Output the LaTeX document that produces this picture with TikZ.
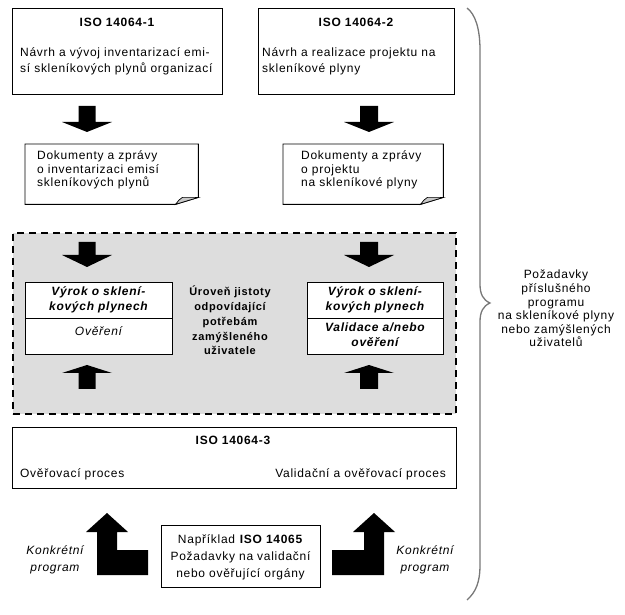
\documentclass[tikz,border=0pt]{standalone}
\usepackage{fontspec}
\setmainfont{Liberation Sans}[LetterSpace=6]
\definecolor{panelgray}{RGB}{221,221,221}
\definecolor{bracegray}{RGB}{120,120,120}
\definecolor{flapgray}{RGB}{200,200,200}
\begin{document}
\begin{tikzpicture}[x=1pt,y=-1pt,
  box/.style={draw=black,line width=0.9pt,fill=white,inner sep=0pt},
  frame/.style={inner sep=0pt},
  ln/.style={inner sep=0pt,font=\fontsize{12}{14}\selectfont},
  lnb/.style={ln,font=\fontsize{12}{14}\selectfont\bfseries},
  lni/.style={ln,font=\fontsize{12}{14}\selectfont\itshape},
  lnbi/.style={ln,font=\fontsize{12}{14}\selectfont\bfseries\itshape},
  lnmid/.style={ln,font=\fontsize{11}{13}\selectfont\bfseries},
  blk/.style={fill=black},
  panel/.style={draw=black,fill=panelgray,line width=1.8pt,dash pattern=on 7pt off 5pt,inner sep=0pt},
  bracestyle/.style={draw=bracegray,line width=1.3pt},
]
\useasboundingbox (0,0) rectangle (625,615);

% ---------- top boxes ----------
\node[box,anchor=north west,minimum width=210pt,minimum height=86pt] (b1) at (12,8) {};
\node[box,anchor=north west,minimum width=196pt,minimum height=86pt] (b2) at (258,8) {};
\node[lnb,anchor=base] (b1t) at (117,27) {ISO 14064-1};
\node[ln,anchor=base west] (b1a) at (20,57) {Návrh a vývoj inventarizací emi-};
\node[ln,anchor=base west] (b1b) at (20,73) {sí skleníkových plynů organizací};
\node[lnb,anchor=base] (b2t) at (356,27) {ISO 14064-2};
\node[ln,anchor=base west] (b2a) at (262,57) {Návrh a realizace projektu na};
\node[ln,anchor=base west] (b2b) at (262,73) {skleníkové plyny};

% ---------- arrows top -> documents ----------
\fill[blk] (78.5,106) -- (95.5,106) -- (95.5,122) -- (112,122) -- (87,132) -- (62,122) -- (78.5,122) -- cycle;
\fill[blk] (360,106) -- (378,106) -- (378,122) -- (394,122) -- (369,132) -- (344,122) -- (360,122) -- cycle;

% ---------- documents ----------
\node[frame,anchor=north west,minimum width=173pt,minimum height=60pt] (d1) at (25,144) {};
\node[frame,anchor=north west,minimum width=160pt,minimum height=60pt] (d2) at (283,144) {};
\foreach \d in {d1,d2}{
  \draw[line width=0.9pt,fill=white] (\d.north west) -- (\d.north east) -- ([yshift=7pt]\d.south east)
     -- ([xshift=-23pt]\d.south east) -- (\d.south west) -- cycle;
  \draw[line width=0.7pt,fill=flapgray] ([xshift=-23pt]\d.south east) .. controls ([xshift=-20pt,yshift=3pt]\d.south east) and ([xshift=-19pt,yshift=6pt]\d.south east) .. ([xshift=-16pt,yshift=7pt]\d.south east) -- ([yshift=7pt]\d.south east) -- cycle;
}
\node[ln,anchor=base west] (d1a) at (37,160) {Dokumenty a zprávy};
\node[ln,anchor=base west] (d1b) at (37,173.5) {o inventarizaci emisí};
\node[ln,anchor=base west] (d1c) at (37,187) {skleníkových plynů};
\node[ln,anchor=base west] (d2a) at (301,160) {Dokumenty a zprávy};
\node[ln,anchor=base west] (d2b) at (301,173.5) {o projektu};
\node[ln,anchor=base west] (d2c) at (301,187) {na skleníkové plyny};

% ---------- dashed panel ----------
\node[panel,anchor=north west,minimum width=443pt,minimum height=181pt] (p) at (12,232) {};

\fill[blk] (78.5,242) -- (95.5,242) -- (95.5,255) -- (112,255) -- (87,267) -- (62,255) -- (78.5,255) -- cycle;
\fill[blk] (360,242) -- (378,242) -- (378,255) -- (394,255) -- (369,267) -- (344,255) -- (360,255) -- cycle;
\fill[blk] (78.5,389) -- (95.5,389) -- (95.5,373) -- (112,373) -- (87,365) -- (62,373) -- (78.5,373) -- cycle;
\fill[blk] (360,389) -- (378,389) -- (378,373) -- (394,373) -- (369,365) -- (344,373) -- (360,373) -- cycle;

\node[box,anchor=north west,minimum width=147pt,minimum height=72pt] (s1) at (25,282) {};
\draw[line width=0.9pt] (25,318) -- (172,318);
\node[box,anchor=north west,minimum width=136pt,minimum height=72pt] (s2) at (307,282) {};
\draw[line width=0.9pt] (307,318) -- (443,318);

\node[lnbi,anchor=base] (s1a) at (98.5,296) {Výrok o sklení-};
\node[lnbi,anchor=base] (s1b) at (98.5,311) {kových plynech};
\node[lni,anchor=base] (s1c) at (98.5,336) {Ověření};
\node[lnbi,anchor=base] (s2a) at (375,296) {Výrok o sklení-};
\node[lnbi,anchor=base] (s2b) at (375,311) {kových plynech};
\node[lnbi,anchor=base] (s2c) at (375,332) {Validace a/nebo};
\node[lnbi,anchor=base] (s2d) at (375,347) {ověření};

\node[lnmid,anchor=base] (m1) at (230,296) {Úroveň jistoty};
\node[lnmid,anchor=base] (m2) at (230,310.75) {odpovídající};
\node[lnmid,anchor=base] (m3) at (230,325.5) {potřebám};
\node[lnmid,anchor=base] (m4) at (230,340.25) {zamýšleného};
\node[lnmid,anchor=base] (m5) at (230,355) {uživatele};

% ---------- ISO 14064-3 ----------
\node[box,anchor=north west,minimum width=444pt,minimum height=61pt] (b3) at (12,427) {};
\node[lnb,anchor=base] (b3t) at (233,445) {ISO 14064-3};
\node[ln,anchor=base west] (b3a) at (20,477) {Ověřovací proces};
\node[ln,anchor=base east] (b3b) at (446,477) {Validační a ověřovací proces};

% ---------- bottom box ----------
\node[box,anchor=north west,minimum width=159pt,minimum height=62pt] (b4) at (161,525) {};
\node[ln,anchor=base] (b4a) at (240.5,543) {Například \textbf{ISO 14065}};
\node[ln,anchor=base] (b4b) at (240.5,560) {Požadavky na validační};
\node[ln,anchor=base] (b4c) at (240.5,577) {nebo ověřující orgány};

% ---------- L-shaped arrows ----------
\fill[blk] (107,513) -- (128,532) -- (117,532) -- (117,550) -- (148,550) -- (148,575) -- (97,575) -- (97,532) -- (86,532) -- cycle;
\fill[blk] (374,513) -- (395,532) -- (384,532) -- (384,575) -- (332,575) -- (332,550) -- (364,550) -- (364,532) -- (353,532) -- cycle;

\node[lni,anchor=base] (k1a) at (55,554) {Konkrétní};
\node[lni,anchor=base] (k1b) at (55,571) {program};
\node[lni,anchor=base] (k2a) at (425,554) {Konkrétní};
\node[lni,anchor=base] (k2b) at (425,571) {program};

% ---------- brace ----------
\draw[bracestyle] (467,8) .. controls (475,14) and (480,28) .. (480,50) -- (480,284)
   .. controls (480,294) and (483,300) .. (490,303)
   .. controls (483,306) and (480,312) .. (480,322) -- (480,565)
   .. controls (480,582) and (476,592) .. (467,600);

\node[ln,anchor=base] (r1) at (556,279) {Požadavky};
\node[ln,anchor=base] (r2) at (556,292.6) {příslušného};
\node[ln,anchor=base] (r3) at (556,306.2) {programu};
\node[ln,anchor=base] (r4) at (556,319.8) {na skleníkové plyny};
\node[ln,anchor=base] (r5) at (556,333.4) {nebo zamýšlených};
\node[ln,anchor=base] (r6) at (556,347) {uživatelů};
\end{tikzpicture}
\end{document}
